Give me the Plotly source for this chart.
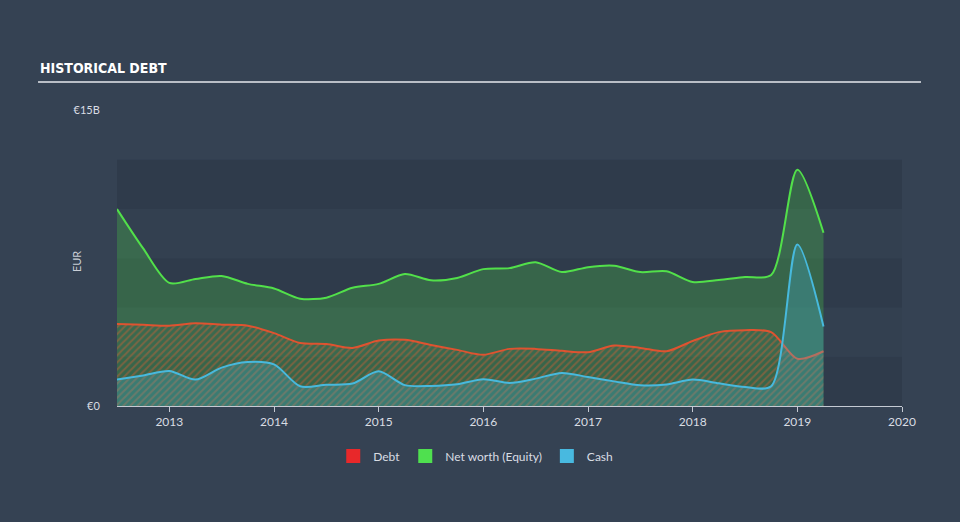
import plotly.graph_objects as go

years = [2012.5, 2012.75, 2013.0, 2013.25, 2013.5, 2013.75, 2014.0, 2014.25, 2014.5, 2014.75,
         2015.0, 2015.25, 2015.5, 2015.75, 2016.0, 2016.25, 2016.5, 2016.75, 2017.0, 2017.25,
         2017.5, 2017.75, 2018.0, 2018.25, 2018.5, 2018.75, 2019.0, 2019.25]

equity = [10.0, 8.0, 6.25, 6.45, 6.6, 6.2, 5.97, 5.45, 5.5, 6.0,
          6.2, 6.7, 6.38, 6.5, 6.95, 7.0, 7.3, 6.8, 7.05, 7.12,
          6.8, 6.84, 6.3, 6.4, 6.55, 6.65, 12.0, 8.8]

debt = [4.16, 4.12, 4.08, 4.2, 4.13, 4.08, 3.7, 3.2, 3.15, 2.95,
        3.32, 3.36, 3.1, 2.85, 2.6, 2.9, 2.9, 2.8, 2.73, 3.07,
        2.95, 2.78, 3.3, 3.75, 3.85, 3.75, 2.4, 2.78]

cash = [1.34, 1.55, 1.78, 1.34, 1.95, 2.23, 2.11, 1.0, 1.08, 1.14,
        1.76, 1.06, 1.02, 1.1, 1.36, 1.17, 1.39, 1.68, 1.47, 1.25,
        1.05, 1.09, 1.34, 1.15, 0.97, 1.0, 8.2, 4.04]

x_ticks = [2013, 2014, 2015, 2016, 2017, 2018, 2019, 2020]
x_labels = ["2013", "2014", "2015", "2016", "2017", "2018", "2019", "2020"]
y_ticks = [0, 15]
y_labels = ["€0", "€15B"]

BG = "#354253"
DARK_BAND = "#2f3b4b"
LIGHT_BAND = "#334050"
GREEN = "#52e04a"
RED_LINE = "#df5330"
BLUE = "#47b9dd"
FONT = "Lato, Open Sans, sans-serif"

fig = go.Figure()

# Equity
fig.add_trace(go.Scatter(
    x=years, y=equity, mode="lines", line=dict(color=GREEN, width=2, shape="spline", smoothing=0.8),
    fill="tozeroy", fillcolor="rgba(82,224,74,0.26)", showlegend=False, hoverinfo="skip"))
# Debt
fig.add_trace(go.Scatter(
    x=years, y=debt, mode="lines", line=dict(color=RED_LINE, width=2, shape="spline", smoothing=0.8),
    fill="tozeroy", fillcolor="rgba(0,0,0,0)",
    fillpattern=dict(shape="/", fgcolor="rgba(230,95,50,0.75)", bgcolor="rgba(0,0,0,0)",
                     size=5, solidity=0.4),
    showlegend=False, hoverinfo="skip"))
# Cash
fig.add_trace(go.Scatter(
    x=years, y=cash, mode="lines", line=dict(color=BLUE, width=2, shape="spline", smoothing=0.8),
    fill="tozeroy", fillcolor="rgba(71,185,221,0.27)", showlegend=False, hoverinfo="skip"))

# Legend entries
for name, col in [("Debt", "#e8282a"), ("Net worth (Equity)", "#4fe04f"), ("Cash", "#48b9e0")]:
    fig.add_trace(go.Scatter(x=[None], y=[None], mode="markers", name=name,
                             marker=dict(symbol="square", size=14, color=col)))

shapes = []
bands = [(0, 2.5, DARK_BAND), (2.5, 5, LIGHT_BAND), (5, 7.5, DARK_BAND),
         (7.5, 10, LIGHT_BAND), (10, 12.5, DARK_BAND)]
for y0, y1, c in bands:
    shapes.append(dict(type="rect", xref="x", yref="y", x0=2012.5, x1=2020, y0=y0, y1=y1,
                       fillcolor=c, line=dict(width=0), layer="below"))
# title underline
shapes.append(dict(type="line", xref="paper", yref="paper", x0=-0.1006, x1=1.0242,
                   y0=1.0872, y1=1.0872, line=dict(color="#b9bec6", width=2)))

fig.update_layout(
    width=960, height=522,
    paper_bgcolor=BG, plot_bgcolor=BG,
    margin=dict(l=117, r=58, t=108, b=116),
    font=dict(family=FONT, color="#d9dde3", size=12),
    shapes=shapes,
    showlegend=True,
    legend=dict(orientation="h", x=0.457, xanchor="center", y=-0.168, yanchor="middle",
                font=dict(size=12, color="#d9dde3"), bgcolor="rgba(0,0,0,0)",
                itemwidth=30, tracegroupgap=0),
    xaxis=dict(range=[2012.5, 2020], tickvals=x_ticks, ticktext=x_labels,
               showgrid=False, zeroline=False, showline=True, linecolor="#c5cad3", linewidth=1,
               ticks="outside", ticklen=5, tickcolor="#c5cad3",
               tickfont=dict(size=12, color="#d9dde3")),
    yaxis=dict(range=[0, 15.13], tickvals=y_ticks, ticktext=y_labels,
               showgrid=False, zeroline=False, showline=False,
               ticks="outside", ticklen=14, tickcolor="rgba(0,0,0,0)",
               tickfont=dict(size=11, color="#d9dde3")),
    annotations=[
        dict(text="<b>HISTORICAL DEBT</b>", xref="paper", yref="paper", x=-0.1006, y=1.134,
             xanchor="left", yanchor="middle", showarrow=False,
             font=dict(family="DejaVu Sans Condensed, DejaVu Sans, sans-serif",
                       size=14, color="#ffffff")),
        dict(text="EUR", xref="paper", yref="paper", x=-0.0522, y=0.483, textangle=-90,
             xanchor="center", yanchor="middle", showarrow=False,
             font=dict(size=11, color="#c9ced6")),
    ],
)

fig.write_html("out.html")
